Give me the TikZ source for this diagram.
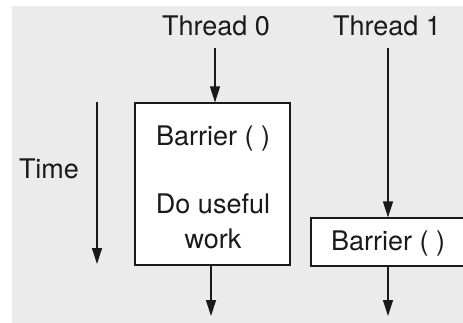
\documentclass[tikz,border=0pt]{standalone}
\usepackage{fontspec}
\setmainfont{TeX Gyre Heros}
\usetikzlibrary{arrows.meta}
\definecolor{panel}{HTML}{EBEBEB}
\definecolor{ink}{HTML}{1A1A1A}
\tikzset{
  lbl/.style={anchor=base, inner sep=0pt, font=\fontsize{27}{32}\selectfont, text=ink},
  box/.style={draw=ink, line width=1.2pt, fill=white, inner sep=0pt},
  flow/.style={draw=ink, line width=1.2pt, -{Triangle[length=16pt,width=10pt]}},
}
\begin{document}
\begin{tikzpicture}[x=1pt,y=-1pt]
  \clip (0,0) rectangle (463,322);
  \fill[white] (0,0) rectangle (463,322);
  \fill[panel] (12,6) rectangle (470,330);

  % thread headers
  \node[lbl] (t0) at (216,35) {Thread 0};
  \node[lbl] (t1) at (387,35) {Thread 1};

  % time axis
  \node[lbl] (time) at (49,178) {Time};
  \coordinate (ttop) at (97,102);
  \coordinate (tbot) at (97,264);
  \draw[flow] (ttop) -- (tbot);

  % thread 0: barrier followed by useful work
  \node[box, minimum width=155pt, minimum height=162pt] (b0) at (212.5,184) {};
  \node[lbl] (b0a) at (213,145) {Barrier ( )};
  \node[lbl] (b0b) at (213,213) {Do useful};
  \node[lbl] (b0c) at (213,248) {work};

  % thread 1: barrier only
  \node[box, minimum width=154pt, minimum height=48pt] (b1) at (388,242) {};
  \node[lbl] (b1a) at (388,250) {Barrier ( )};

  % connectors
  \coordinate (s0) at (215,48);
  \coordinate (s1) at (388,48);
  \coordinate (e0) at (211,316);
  \coordinate (e1) at (388,316);
  \draw[flow] (s0) -- (s0 |- b0.north);
  \draw[flow] (s1) -- (b1.north);
  \draw[flow] (e0 |- b0.south) -- (e0);
  \draw[flow] (b1.south) -- (e1);
\end{tikzpicture}
\end{document}
